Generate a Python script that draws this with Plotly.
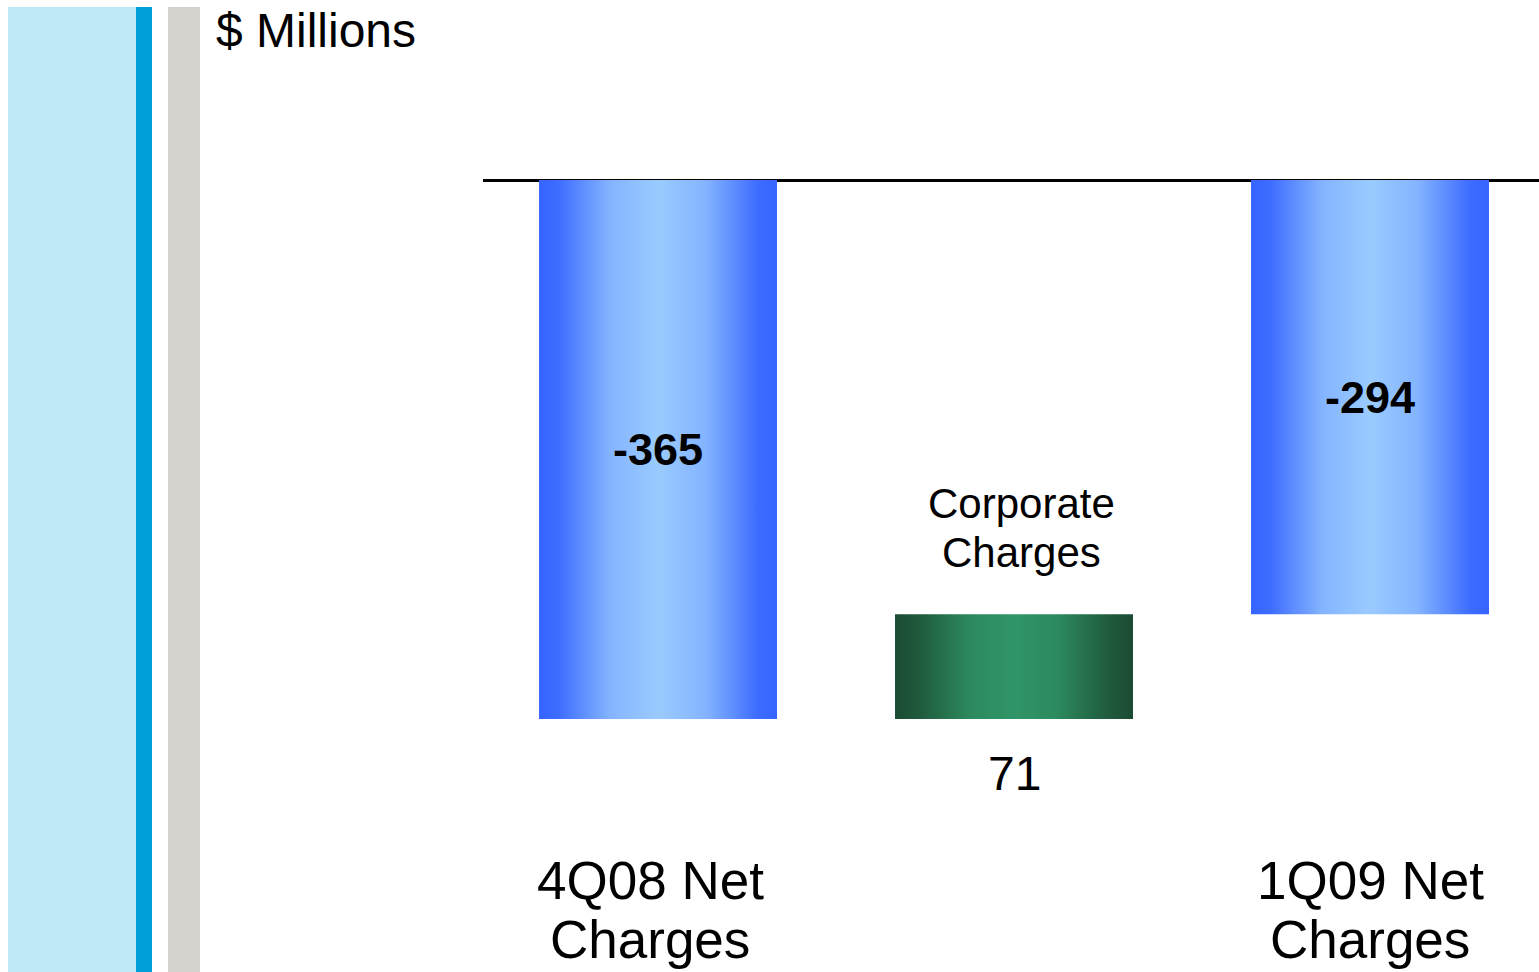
import plotly.graph_objects as go

# Waterfall data ($ Millions)
categories = ["4Q08 Net\nCharges", "Corporate\nCharges", "1Q09 Net\nCharges"]
values = [-365, 71, -294]
measures = ["absolute", "relative", "total"]
value_labels = ["-365", "71", "-294"]

W, H = 1539, 972
FONT = "Liberation Sans, Arial, sans-serif"
BAR_W = 0.6685

BLUE_SCALE = [[0, "#3564ff"], [0.08, "#3d6cff"], [0.3, "#84b4ff"],
              [0.5, "#9acbff"], [0.7, "#84b4ff"], [0.92, "#3d6cff"], [1, "#3564ff"]]
GREEN_SCALE = [[0, "#1b4b33"], [0.1, "#1f5a3c"], [0.32, "#2c8a5e"],
               [0.5, "#309568"], [0.68, "#2c8a5e"], [0.9, "#1f5a3c"], [1, "#1b4b33"]]


def py(p):
    """pixel row -> paper y"""
    return 1 - p / H


def px(p):
    """pixel column -> paper x"""
    return p / W


# compute bar spans for the waterfall
spans = []
running = 0
for v, m in zip(values, measures):
    if m == "absolute":
        lo, hi = 0, v
        running = v
    elif m == "relative":
        lo, hi = running, running + v
        running += v
    else:
        lo, hi = 0, v
    spans.append((lo, hi))

fig = go.Figure()
for i, ((lo, hi), m) in enumerate(zip(spans, measures)):
    x0, x1 = i - BAR_W / 2, i + BAR_W / 2
    fig.add_trace(go.Scatter(
        x=[x0, x1, x1, x0, x0], y=[lo, lo, hi, hi, lo],
        mode="lines", line=dict(width=0), fill="toself",
        fillgradient=dict(type="horizontal",
                          colorscale=GREEN_SCALE if m == "relative" else BLUE_SCALE),
        hoverinfo="skip", showlegend=False,
    ))

annotations = []
for i, ((lo, hi), m, lab, cat) in enumerate(zip(spans, measures, value_labels, categories)):
    lines = cat.split("\n")
    if m == "relative":
        # value below the floating bar, name above it
        annotations.append(dict(x=i, y=min(lo, hi), xref="x", yref="y", text=lab,
                                showarrow=False, yanchor="middle", yshift=-54,
                                font=dict(family=FONT, size=48, color="#000")))
        n = len(lines)
        for k, line in enumerate(lines):
            annotations.append(dict(x=i + 0.02, y=max(lo, hi), xref="x", yref="y",
                                    text=line, showarrow=False, yanchor="bottom",
                                    yshift=36 + 49 * (n - 1 - k),
                                    font=dict(family=FONT, size=42, color="#000")))
    else:
        annotations.append(dict(x=i, y=(lo + hi) / 2, xref="x", yref="y",
                                text="<b>%s</b>" % lab, showarrow=False,
                                yanchor="middle", yshift=0,
                                font=dict(family=FONT, size=45, color="#000")))
        for k, line in enumerate(lines):
            annotations.append(dict(x=i, y=py(880 + 59 * k), xref="x", yref="paper",
                                    text=line, showarrow=False, yanchor="middle",
                                    xshift=-8 if i == 0 else 0,
                                    font=dict(family=FONT, size=53, color="#000")))

annotations.append(dict(x=px(214), y=py(30), xref="paper", yref="paper",
                        text="$ Millions", showarrow=False, xanchor="left",
                        yanchor="middle", font=dict(family=FONT, size=48, color="#000")))

# decorative side strips
shapes = [
    dict(type="rect", xref="paper", yref="paper", x0=px(8), x1=px(136), y0=0, y1=py(7),
         fillcolor="#bee8f5", line=dict(width=0), layer="below"),
    dict(type="rect", xref="paper", yref="paper", x0=px(136), x1=px(152), y0=0, y1=py(7),
         fillcolor="#009fda", line=dict(width=0), layer="below"),
    dict(type="rect", xref="paper", yref="paper", x0=px(168), x1=px(200), y0=0, y1=py(7),
         fillcolor="#d5d1cd", line=dict(width=0), layer="below"),
]

fig.update_layout(
    width=W, height=H, margin=dict(l=0, r=0, t=0, b=0),
    paper_bgcolor="white", plot_bgcolor="white",
    showlegend=False, annotations=annotations, shapes=shapes,
    xaxis=dict(domain=[483 / W, 1], range=[-0.4916, 2.4747], showgrid=False,
               zeroline=False, showticklabels=False, ticks="", showline=False),
    yaxis=dict(range=[-536.3, 121.9], showgrid=False, zeroline=True,
               zerolinecolor="#000", zerolinewidth=3, showticklabels=False,
               ticks="", showline=False),
)

fig.write_html("out.html")
